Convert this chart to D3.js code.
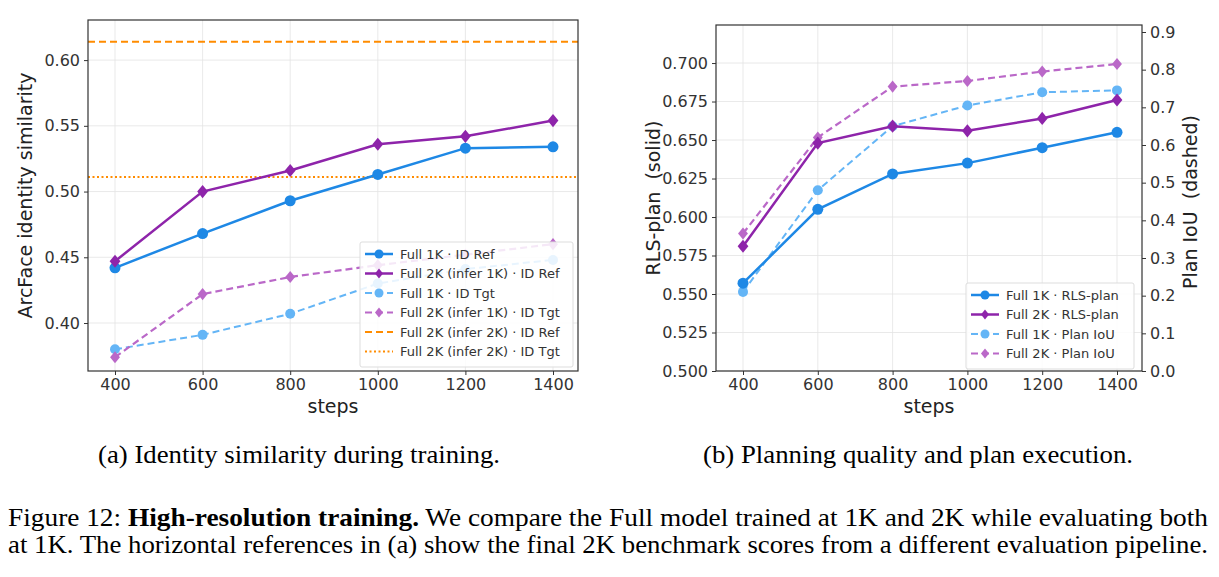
<!DOCTYPE html>
<html><head><meta charset="utf-8">
<script src="https://cdn.jsdelivr.net/npm/d3@7"></script>
<style>body{margin:0;background:#fff}</style>
</head><body>
<svg id="fig" width="1219" height="577"></svg>
<script>
var steps = [400, 600, 800, 1000, 1200, 1400]
// (a) identity similarity
var full1kRef = [0.442, 0.468, 0.493, 0.513, 0.533, 0.534]
var full2kRef = [0.447, 0.500, 0.516, 0.536, 0.542, 0.554]
var full1kTgt = [0.380, 0.391, 0.407, 0.430, 0.441, 0.448]
var full2kTgt = [0.374, 0.422, 0.435, 0.444, 0.452, 0.460]
var ref2k = 0.614, tgt2k = 0.511
var leftTicks = [0.40, 0.45, 0.50, 0.55, 0.60]
// (b) planning
var rls1k = [0.557, 0.605, 0.628, 0.635, 0.645, 0.655]
var rls2k = [0.581, 0.648, 0.659, 0.656, 0.664, 0.676]
var iou1k = [0.21, 0.48, 0.65, 0.705, 0.74, 0.745]
var iou2k = [0.365, 0.62, 0.755, 0.77, 0.795, 0.815]
var rlsTicks = [0.500, 0.525, 0.550, 0.575, 0.600, 0.625, 0.650, 0.675, 0.700]
var iouTicks = [0, 0.1, 0.2, 0.3, 0.4, 0.5, 0.6, 0.7, 0.8, 0.9]

var blue = "#1e88e5", purple = "#8e24aa", lblue = "#64b5f6", lpurple = "#ba68c8", orange = "#ff8c00"
var svg = d3.select("#fig")
var font = "DejaVu Sans"

function panel(x0, x1, y0, y1) {
    var g = svg.append("g")
    var x = d3.scaleLinear().domain([400, 1400]).range([x0 + 27, x1 - 25])
    return {g: g, x: x, x0: x0, x1: x1, y0: y0, y1: y1}
}

function grid(p, y, ticks) {
    p.g.selectAll(null).data(steps).enter().append("line")
        .attr("x1", d => p.x(d)).attr("x2", d => p.x(d)).attr("y1", p.y0).attr("y2", p.y1)
        .attr("stroke", "#e3e3e3").attr("stroke-width", 0.8)
    p.g.selectAll(null).data(ticks).enter().append("line")
        .attr("x1", p.x0).attr("x2", p.x1).attr("y1", d => y(d)).attr("y2", d => y(d))
        .attr("stroke", "#e3e3e3").attr("stroke-width", 0.8)
}

function axes(p, y, ticks, fmt, ylabel) {
    var ax = p.g.append("g").attr("transform", `translate(0,${p.y1})`)
        .call(d3.axisBottom(p.x).tickValues(steps).tickFormat(d3.format("d")).tickSize(4).tickPadding(4))
    var ay = p.g.append("g").attr("transform", `translate(${p.x0},0)`)
        .call(d3.axisLeft(y).tickValues(ticks).tickFormat(d3.format(fmt)).tickSize(4).tickPadding(4))
    ;[ax, ay].forEach(a => {
        a.select(".domain").remove()
        a.selectAll("text").attr("font-family", font).attr("font-size", 16).attr("fill", "#333")
        a.selectAll("line").attr("stroke", "#333")
    })
    p.g.append("rect").attr("x", p.x0).attr("y", p.y0).attr("width", p.x1 - p.x0).attr("height", p.y1 - p.y0)
        .attr("fill", "none").attr("stroke", "#333").attr("stroke-width", 1.2)
    p.g.append("text").attr("x", (p.x0 + p.x1) / 2).attr("y", p.y1 + 42).attr("text-anchor", "middle")
        .attr("font-family", font).attr("font-size", 19).attr("fill", "#222").text("steps")
    p.g.append("text").attr("transform", `translate(${p.x0 - 56},${(p.y0 + p.y1) / 2}) rotate(-90)`)
        .attr("text-anchor", "middle").attr("font-family", font).attr("font-size", 19).attr("fill", "#222")
        .attr("xml:space", "preserve").text(ylabel)
}

function marker(g, shape, cx, cy, color, r) {
    if (shape == "circle") g.append("circle").attr("cx", cx).attr("cy", cy).attr("r", r).attr("fill", color)
    else g.append("path").attr("d", d3.symbol(d3.symbolSquare, r * r * 2)())
        .attr("transform", `translate(${cx},${cy}) scale(0.9,1.1) rotate(45)`).attr("fill", color)
}

function series(p, y, vals, color, shape, dash, width, r) {
    var line = d3.line().x((d, i) => p.x(steps[i])).y(d => y(d))
    p.g.append("path").datum(vals).attr("d", line).attr("fill", "none").attr("stroke", color)
        .attr("stroke-width", width).attr("stroke-dasharray", dash)
    vals.forEach((v, i) => marker(p.g, shape, p.x(steps[i]), y(v), color, r))
}

function legend(g, lx, ly, w, items, rowH) {
    g.append("rect").attr("x", lx).attr("y", ly).attr("width", w).attr("height", items.length * rowH + 8)
        .attr("fill", "#fff").attr("fill-opacity", 0.85).attr("stroke", "#ddd").attr("rx", 2)
    items.forEach((it, i) => {
        var cy = ly + 12 + i * rowH
        g.append("line").attr("x1", lx + 5).attr("x2", lx + 33).attr("y1", cy).attr("y2", cy)
            .attr("stroke", it.c).attr("stroke-width", it.w).attr("stroke-dasharray", it.d)
        if (it.s) marker(g, it.s, lx + 19, cy, it.c, 4.5)
        g.append("text").attr("x", lx + 40).attr("y", cy + 4.5).attr("font-family", font)
            .attr("font-size", 13).attr("fill", "#333").text(it.t)
    })
}

// ---- panel (a)
var pa = panel(88, 578, 20, 371)
var ya = d3.scaleLinear().domain([0.3635, 0.6305]).range([371, 20])
grid(pa, ya, leftTicks)
pa.g.append("line").attr("x1", pa.x0).attr("x2", pa.x1).attr("y1", ya(ref2k)).attr("y2", ya(ref2k))
    .attr("stroke", orange).attr("stroke-width", 2).attr("stroke-dasharray", "7,4")
pa.g.append("line").attr("x1", pa.x0).attr("x2", pa.x1).attr("y1", ya(tgt2k)).attr("y2", ya(tgt2k))
    .attr("stroke", orange).attr("stroke-width", 2).attr("stroke-dasharray", "2,2.5")
series(pa, ya, full1kTgt, lblue, "circle", "7,4", 2, 5)
series(pa, ya, full2kTgt, lpurple, "diamond", "7,4", 2.2, 5.5)
series(pa, ya, full1kRef, blue, "circle", null, 2.5, 5.5)
series(pa, ya, full2kRef, purple, "diamond", null, 2.5, 6)
axes(pa, ya, leftTicks, ".2f", "ArcFace identity similarity")
legend(pa.g, 360, 242, 213, [
    {c: blue, w: 2.5, s: "circle", t: "Full 1K · ID Ref"},
    {c: purple, w: 2.5, s: "diamond", t: "Full 2K (infer 1K) · ID Ref"},
    {c: lblue, w: 2, s: "circle", d: "7,4", t: "Full 1K · ID Tgt"},
    {c: lpurple, w: 2, s: "diamond", d: "7,4", t: "Full 2K (infer 1K) · ID Tgt"},
    {c: orange, w: 2, d: "7,4", t: "Full 2K (infer 2K) · ID Ref"},
    {c: orange, w: 2, d: "2,2.5", t: "Full 2K (infer 2K) · ID Tgt"}
], 19.5)

// ---- panel (b)
var pb = panel(716, 1142, 25, 371)
var yb = d3.scaleLinear().domain([0.5, 0.7247]).range([371, 25])
var yr = d3.scaleLinear().domain([0, 0.9]).range([371, 32])
grid(pb, yb, rlsTicks)
series(pb, yr, iou1k, lblue, "circle", "7,4", 2, 5)
series(pb, yr, iou2k, lpurple, "diamond", "7,4", 2.2, 5.5)
series(pb, yb, rls1k, blue, "circle", null, 2.5, 5.5)
series(pb, yb, rls2k, purple, "diamond", null, 2.5, 6)
axes(pb, yb, rlsTicks, ".3f", "RLS-plan  (solid)")
var ar = pb.g.append("g").attr("transform", `translate(${pb.x1},0)`)
    .call(d3.axisRight(yr).tickValues(iouTicks).tickFormat(d3.format(".1f")).tickSize(4).tickPadding(4))
ar.select(".domain").remove()
ar.selectAll("text").attr("font-family", font).attr("font-size", 16).attr("fill", "#333")
ar.selectAll("line").attr("stroke", "#333")
pb.g.append("text").attr("transform", `translate(${pb.x1 + 55},${(pb.y0 + pb.y1) / 2 + 4}) rotate(-90)`)
    .attr("text-anchor", "middle").attr("font-family", font).attr("font-size", 19).attr("fill", "#222")
    .attr("xml:space", "preserve").text("Plan IoU  (dashed)")
legend(pb.g, 966, 283, 168, [
    {c: blue, w: 2.5, s: "circle", t: "Full 1K · RLS-plan"},
    {c: purple, w: 2.5, s: "diamond", t: "Full 2K · RLS-plan"},
    {c: lblue, w: 2, s: "circle", d: "7,4", t: "Full 1K · Plan IoU"},
    {c: lpurple, w: 2, s: "diamond", d: "7,4", t: "Full 2K · Plan IoU"}
], 19.5)

// ---- captions
var serif = "Liberation Serif"
function cap(x, y, len, size, anchor) {
    return svg.append("text").attr("x", x).attr("y", y).attr("text-anchor", anchor).attr("font-family", serif)
        .attr("font-size", size).attr("textLength", len).attr("lengthAdjust", "spacingAndGlyphs")
}
cap(98, 463, 402, 25, "start").text("(a) Identity similarity during training.")
cap(703, 463, 430, 25, "start").text("(b) Planning quality and plan execution.")
var t1 = cap(8, 526, 1200, 26, "start")
t1.append("tspan").text("Figure 12: ")
t1.append("tspan").attr("font-weight", "bold").text("High-resolution training.")
t1.append("tspan").text(" We compare the Full model trained at 1K and 2K while evaluating both")
cap(8, 553, 1200, 26, "start")
    .text("at 1K. The horizontal references in (a) show the final 2K benchmark scores from a different evaluation pipeline.")
</script>
</body></html>
